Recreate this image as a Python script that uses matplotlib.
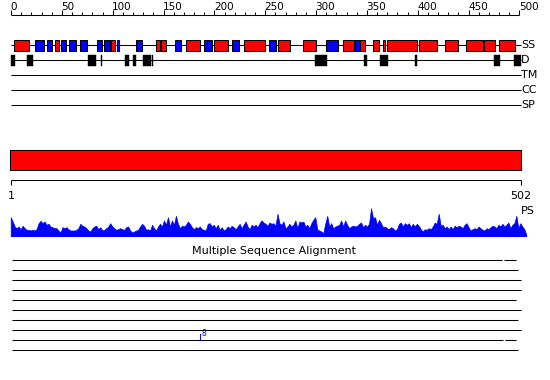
import numpy as np
import matplotlib
matplotlib.use("Agg")
import matplotlib.pyplot as plt
from matplotlib.patches import Rectangle

# ---------------- data ----------------
seq_len = 502
ruler_ticks = list(range(0, 501, 10))
ruler_labels = [str(t) for t in range(0, 501, 50)]

# secondary structure: (start, end, type)  H = helix (red), E = strand (blue)
ss_start = [3.2, 23.9, 35.7, 43.6, 49.5, 57.3, 68.1, 84.9, 91.7, 98.6, 104.2, 123.2,
            142.9, 147.8, 161.6, 172.4, 189.8, 199.9, 217.6, 229.4, 253.4, 262.8,
            287.4, 309.7, 326.7, 338.6, 343.5, 356.2, 365.8, 370.0, 401.5, 427.0,
            447.7, 465.1, 480.1]
ss_end = [18.0, 32.7, 40.6, 46.9, 53.8, 64.2, 75.0, 89.2, 97.1, 102.0, 106.5, 128.5,
          146.2, 152.7, 167.5, 185.5, 197.9, 213.1, 224.5, 250.0, 260.6, 274.6,
          300.2, 321.2, 337.0, 343.5, 348.4, 362.1, 368.0, 398.9, 418.6, 439.8,
          464.4, 475.6, 495.9]
ss_type = ["H", "E", "E", "H", "E", "E", "E", "E", "E", "H", "E", "E",
           "H", "H", "E", "H", "E", "H", "E", "H", "E", "H",
           "H", "E", "H", "E", "H", "H", "H", "H", "H", "H",
           "H", "H", "H"]

# disorder segments
dis_start = [0.0, 15.7, 75.7, 88.5, 112.1, 120.0, 129.8, 138.3, 299.2, 347.1,
             362.8, 397.5, 474.9, 494.6]
dis_end = [3.9, 21.3, 83.3, 89.8, 116.0, 122.6, 137.4, 139.9, 310.4, 349.8,
           370.4, 398.9, 480.5, 501.2]

track_labels = ["SS", "D", "TM", "CC", "SP"]

# domain bar
domain_start, domain_end = 0, 501
domain_labels = ["1", "502"]

# conservation / PS profile (heights)
ps_values = [
    18.3, 14, 9, 7.3, 9, 6.3, 9.7, 7.3, 5.7, 5.7, 5, 5.7, 5, 6.3, 12.3, 14.7, 12.3, 14,
    10.7, 11.7, 9, 8.3, 7.3, 7.3, 5, 3, 8.3, 7.3, 8.3, 6.3, 5, 5, 5, 5.7, 7.3, 11.7,
    9.7, 9, 7.3, 5, 4, 7.3, 9, 9.7, 6.3, 8.3, 5, 5.7, 7.3, 9, 12.3, 9, 7.3, 5.7, 6.3,
    7.3, 6.3, 5.7, 8.3, 9, 5, 3, 4, 5, 5.7,
    9, 11.7, 9.7, 5.7, 6.3, 5, 10.7, 7.3, 5, 9, 11.7, 9, 15, 10.7, 18.3, 9, 15, 10.7,
    19.7, 11.7, 7.3, 9.7, 9, 10.7, 14, 11.7, 8.3, 6.3, 8.3, 7.3, 9, 6.3, 5.7, 5, 11.7,
    12.3, 9, 10.7, 7.3, 10.7, 5.7, 8.3, 5, 6.3, 9, 7.3, 9.7, 8.3, 6.3, 9, 11.7, 7.3,
    10.7, 14, 9, 6.3, 10.7, 9, 10.7, 8.3, 12.3, 15, 13, 11.7, 9.7,
    13, 11.7, 12.3, 9.7, 21.7, 12.3, 10.7, 14, 7.3, 9, 11.7, 9, 10.7, 15, 7.3, 14, 13,
    14, 9, 10.7, 7.3, 12.3, 15.7, 18.3, 6.3, 5, 4, 2.3, 11.7, 19.7, 9, 12.3, 7.3, 9,
    9.7, 10.7, 15, 9, 15, 10.7, 7.3, 9, 9.7, 9, 9.7, 11.7, 13, 8.3, 10.7, 9, 11.7, 27.3,
    17.3, 18.3, 10.7, 15.7, 12.3, 8.3, 9, 7.3, 6.3, 8.3, 7.3, 5, 6.3,
    11.7, 13, 9, 12.3, 10.7, 12.3, 8.3, 11.7, 9, 11.7, 9.7, 6.3, 4, 6.3, 5.7, 7.3, 6.3,
    9, 13, 11.7, 21.7, 9.7, 10.7, 7.3, 9, 6.3, 9, 6.3, 9.7, 8.3, 9.7, 9, 7.3, 10.7,
    12.3, 8.3, 5, 6.3, 7.3, 6.3, 9, 7.3, 5.7, 5, 7.3, 6.3, 8.3, 9.7, 9, 7.3, 10.7, 9,
    11.7, 9, 10.7, 13, 7.3, 10.7, 12.3, 19.7, 7.3, 12.3, 9, 6.3, 0.7,
]
ps_pos = np.linspace(-0.3, 506.7, len(ps_values))

# multiple sequence alignment coverage segments
msa_segments = [
    [(0.7, 482.8), (484.8, 496.6)],
    [(0.7, 498.5)],
    [(0.7, 501.5)],
    [(0.7, 501.5)],
    [(0.7, 496.6)],
    [(0.7, 501.5)],
    [(0.7, 498.5)],
    [(0.7, 501.5)],
    [(0.7, 483.8), (485.7, 496.6)],
    [(0.7, 498.5)],
]
msa_mark_row, msa_mark_pos, msa_mark_label = 8, 185.8, "8"

# ---------------- layout ----------------
W, H = 550, 380
PX0, K = 11.0, 1.017  # pixel of residue 0, pixels per residue
fig = plt.figure(figsize=(W / 100, H / 100), dpi=100)
ax = fig.add_axes([0, 0, 1, 1])
ax.set_xlim(-PX0 / K, (W - PX0) / K)
ax.set_ylim(H, 0)
ax.axis("off")

LW = 0.75
FS_RULER = 7.5
FS_LAB = 8

# top ruler
y_r = 15
ax.plot([0, 500], [y_r, y_r], color="black", lw=LW, solid_capstyle="butt")
for t in ruler_ticks:
    top = 10 if t % 50 == 0 else 12
    ax.plot([t, t], [y_r, top], color="black", lw=LW, solid_capstyle="butt")
for lab in ruler_labels:
    ax.text(int(lab) - 0.5, 10.5, lab, fontsize=FS_RULER, ha="left", va="baseline")

# tracks
track_y = [45, 60, 75, 90, 105]
for lab, y in zip(track_labels, track_y):
    ax.plot([0, 501], [y, y], color="black", lw=LW, solid_capstyle="butt", zorder=1)
    ax.text(501.5, y, lab, fontsize=FS_LAB, ha="left", va="center")

ss_col = {"H": "#ff0000", "E": "#0000ff"}
for s, e, t in zip(ss_start, ss_end, ss_type):
    ax.add_patch(Rectangle((s, 40), e - s, 10.5, facecolor=ss_col[t],
                           edgecolor="black", lw=LW, zorder=2))

for s, e in zip(dis_start, dis_end):
    ax.add_patch(Rectangle((s, 55), e - s, 10.5, facecolor="black",
                           edgecolor="black", lw=0.3, zorder=2))

# domain bar
ax.add_patch(Rectangle((domain_start - 0.7, 150), domain_end - domain_start + 0.7, 20,
                       facecolor="#ff0000", edgecolor="black", lw=LW, zorder=2))

# bottom ruler
y_b = 180
ax.plot([domain_start, domain_end], [y_b, y_b], color="black", lw=LW, solid_capstyle="butt")
for pos, lab in zip([domain_start, domain_end], domain_labels):
    ax.plot([pos, pos], [y_b, y_b + 5], color="black", lw=LW, solid_capstyle="butt")
    ax.text(pos, 196, lab, fontsize=FS_LAB, ha="center", va="center")
ax.text(501.5, 211, "PS", fontsize=FS_LAB, ha="left", va="center")

# PS profile
base = 235.5
ps_arr = np.array(ps_values)
ax.fill_between(ps_pos, base, base - ps_arr, color="#0000ff", lw=0.5, zorder=2)
ax.plot([ps_pos[0], ps_pos[-1]], [base, base], color="#0000ff", lw=LW)

# MSA
ax.text(259, 250.5, "Multiple Sequence Alignment", fontsize=FS_LAB, ha="center", va="center")
for i, segs in enumerate(msa_segments):
    y = 260 + 10 * i
    for s, e in segs:
        ax.plot([s, e], [y, y], color="black", lw=LW, solid_capstyle="butt")
y_m = 260 + 10 * msa_mark_row
ax.plot([msa_mark_pos, msa_mark_pos], [y_m, y_m - 6], color="#0000ff", lw=LW)
ax.text(msa_mark_pos + 1.5, y_m - 6, msa_mark_label, fontsize=5.5, color="#0000ff",
        ha="left", va="center")

fig.savefig("out.png", dpi=100)
